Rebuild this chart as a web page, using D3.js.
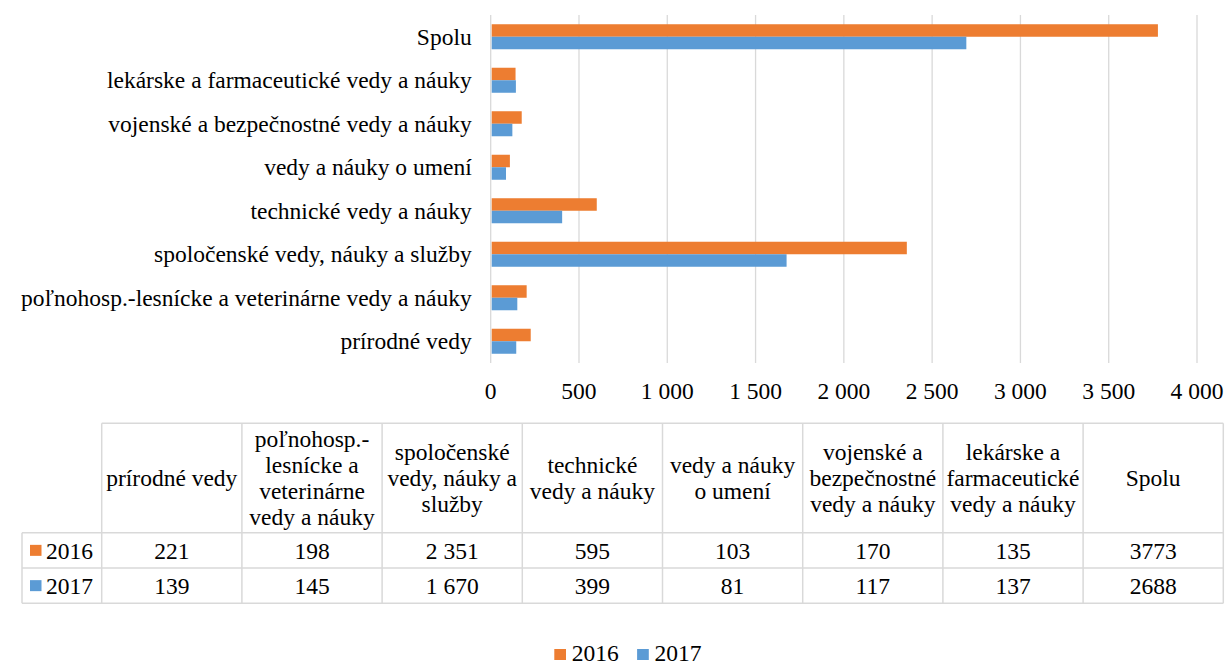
<!DOCTYPE html>
<html>
<head>
<meta charset="utf-8">
<script src="https://cdn.jsdelivr.net/npm/d3@7"></script>
</head>
<body style="margin:0">
<script>
const categories = [
  "prírodné vedy",
  "poľnohosp.-lesnícke a veterinárne vedy a náuky",
  "spoločenské vedy, náuky a služby",
  "technické vedy a náuky",
  "vedy a náuky o umení",
  "vojenské a bezpečnostné vedy a náuky",
  "lekárske a farmaceutické vedy a náuky",
  "Spolu"
];
const years = ["2016", "2017"];
const values2016 = [221, 198, 2351, 595, 103, 170, 135, 3773];
const values2017 = [139, 145, 1670, 399, 81, 117, 137, 2688];
const xTicks = [0, 500, 1000, 1500, 2000, 2500, 3000, 3500, 4000];

const colors = { "2016": "#ED7D31", "2017": "#5B9BD5" };
const gridColor = "#D9D9D9";
const fontSize = 23.5;

const width = 1231;
const height = 664;

const locale = d3.formatLocale({ decimal: ",", thousands: "\u00a0", grouping: [3], currency: ["", ""] });
const fmtGroup = locale.format(",d");

const series = years.map((y, i) => ({ year: y, values: i === 0 ? values2016 : values2017 }));

// every text gets the font set on itself
function txt(sel) {
  return sel
    .attr("font-family", "Liberation Serif")
    .attr("font-size", fontSize)
    .attr("fill", "#000");
}

const svg = d3.select("body").append("svg")
  .attr("width", width)
  .attr("height", height);

// bar chart
const plot = { left: 490.7, right: 1197, top: 15, bottom: 363 };

const x = d3.scaleLinear().domain([0, 4000]).range([plot.left, plot.right]);
const y = d3.scaleBand()
  .domain(categories.slice().reverse())
  .range([plot.top, plot.bottom])
  .paddingInner(0.425)
  .paddingOuter(0.2125);
const ySub = d3.scaleBand().domain(years).range([0, y.bandwidth()]);

svg.append("g")
  .selectAll("line")
  .data(xTicks)
  .join("line")
  .attr("x1", (d) => x(d))
  .attr("x2", (d) => x(d))
  .attr("y1", plot.top)
  .attr("y2", plot.bottom)
  .attr("stroke", gridColor)
  .attr("stroke-width", 1.3);

const groups = svg.append("g")
  .selectAll("g")
  .data(categories)
  .join("g")
  .attr("transform", (d) => `translate(0,${y(d)})`);

groups.selectAll("rect")
  .data((d, i) => series.map((s) => ({ year: s.year, value: s.values[i] })))
  .join("rect")
  .attr("x", x(0) + 1)
  .attr("y", (d) => ySub(d.year))
  .attr("width", (d) => x(d.value) - x(0))
  .attr("height", ySub.bandwidth())
  .attr("fill", (d) => colors[d.year]);

// category labels
svg.append("g")
  .selectAll("text")
  .data(categories)
  .join("text")
  .call(txt)
  .attr("x", plot.left - 19)
  .attr("y", (d) => y(d) + y.bandwidth() / 2)
  .attr("dy", "0.35em")
  .attr("text-anchor", "end")
  .text((d) => d);

// x axis labels
svg.append("g")
  .selectAll("text")
  .data(xTicks)
  .join("text")
  .call(txt)
  .attr("x", (d) => x(d))
  .attr("y", 399)
  .attr("text-anchor", "middle")
  .text((d) => fmtGroup(d));

// data table
const table = { left: 22, colLeft: 101.7, right: 1223.3, top: 423.3, headBottom: 532.7, rowH: 35.3 };
const col = d3.scaleBand().domain(categories).range([table.colLeft, table.right]);
const rowY = d3.scaleBand().domain(years).range([table.headBottom, table.headBottom + table.rowH * years.length]);
const tableBottom = table.headBottom + table.rowH * years.length;
const border = svg.append("g").attr("stroke", gridColor).attr("stroke-width", 1.5);

border.append("line").attr("x1", table.colLeft).attr("x2", table.right).attr("y1", table.top).attr("y2", table.top);
border.selectAll(".hl")
  .data([table.headBottom, ...years.map((yr) => rowY(yr) + rowY.bandwidth())])
  .join("line")
  .attr("x1", table.left).attr("x2", table.right)
  .attr("y1", (d) => d).attr("y2", (d) => d);
border.selectAll(".vl")
  .data(categories.map((c) => col(c)).concat([table.right]))
  .join("line")
  .attr("x1", (d) => d).attr("x2", (d) => d)
  .attr("y1", table.top).attr("y2", tableBottom);
border.append("line")
  .attr("x1", table.left).attr("x2", table.left)
  .attr("y1", table.headBottom).attr("y2", tableBottom);

// header text with wrapping
function wrapWords(text, maxWidth, measure) {
  const tokens = text.replace(/-/g, "-\u0001").split(/(?<=\s)|\u0001/).filter((t) => t.length);
  const lines = [];
  let line = "";
  tokens.forEach((t) => {
    const trial = line + t;
    if (line && measure(trial.trim()) > maxWidth) {
      lines.push(line.trim());
      line = t;
    } else {
      line = trial;
    }
  });
  if (line.trim()) lines.push(line.trim());
  return lines;
}

const measurer = svg.append("text").call(txt).attr("visibility", "hidden");
const measure = (s) => { measurer.text(s); return measurer.node().getComputedTextLength(); };
const lineH = 26;

categories.forEach((c) => {
  const lines = wrapWords(c, col.bandwidth() - 4, measure);
  const cy = (table.top + table.headBottom) / 2;
  const t = svg.append("text")
    .call(txt)
    .attr("text-anchor", "middle");
  lines.forEach((ln, i) => {
    t.append("tspan")
      .attr("x", col(c) + col.bandwidth() / 2)
      .attr("y", cy + (i - (lines.length - 1) / 2) * lineH)
      .attr("dy", "0.35em")
      .text(ln);
  });
});
measurer.remove();

// row keys and values
years.forEach((yr, si) => {
  const cy = rowY(yr) + rowY.bandwidth() / 2;
  svg.append("rect")
    .attr("x", 30).attr("y", cy - 5.5)
    .attr("width", 11.5).attr("height", 11)
    .attr("fill", colors[yr]);
  svg.append("text")
    .call(txt)
    .attr("x", 46).attr("y", cy).attr("dy", "0.35em")
    .text(yr);
  svg.append("g")
    .selectAll("text")
    .data(series[si].values)
    .join("text")
    .call(txt)
    .attr("x", (d, i) => col(categories[i]) + col.bandwidth() / 2)
    .attr("y", cy)
    .attr("dy", "0.35em")
    .attr("text-anchor", "middle")
    .text((d, i) => (categories[i] === "Spolu" ? String(d) : fmtGroup(d)));
});

// legend
const legend = svg.append("g");
let lx = 554.3;
years.forEach((yr) => {
  legend.append("rect")
    .attr("x", lx).attr("y", 649)
    .attr("width", 11.7).attr("height", 11)
    .attr("fill", colors[yr]);
  const t = legend.append("text")
    .call(txt)
    .attr("x", lx + 17.4).attr("y", 653).attr("dy", "0.35em")
    .text(yr);
  lx += 17.4 + t.node().getComputedTextLength() + 18.4;
});
</script>
</body>
</html>
